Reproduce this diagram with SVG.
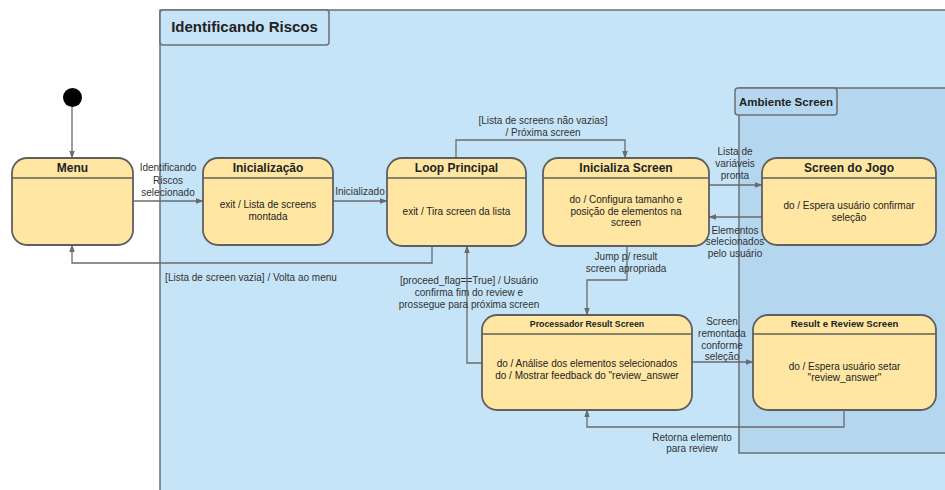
<svg xmlns="http://www.w3.org/2000/svg" width="945" height="490" viewBox="0 0 945 490">
<defs>
<style>
.frame{fill:#c5e4f7;stroke:#6b7075;stroke-width:1.5}
.frame2{fill:#b4d7ef;stroke:#6b7075;stroke-width:1.5}
.node{fill:#ffe7a3;stroke:#5f5f5f;stroke-width:1.8}
.sep{stroke:#5f5f5f;stroke-width:1.5}
.t{font-family:"Liberation Sans",Arial,sans-serif;fill:#222;text-anchor:middle}
.title{font-size:12px;font-weight:bold}
.body{font-size:10px}
.lbl{font-family:"Liberation Sans",Arial,sans-serif;fill:#333;font-size:10px;text-anchor:middle}
.c{fill:none;stroke:#6b6b6b;stroke-width:1.3;marker-end:url(#ah)}
</style>
<marker id="ah" viewBox="0 0 10 10" refX="9" refY="5" markerWidth="8" markerHeight="8" markerUnits="userSpaceOnUse" orient="auto">
<path d="M0,1.5 L10,5 L0,8.5 z" fill="#6b6b6b"/>
</marker>
</defs>
<rect width="945" height="490" fill="#ffffff"/>
<g id="frame-identificando-riscos">
<rect class="frame" x="160" y="10" width="800" height="500"/>
<rect class="frame" x="160" y="10" width="169" height="35" rx="3"/>
<text class="t" x="244.5" y="32" style="font-size:15px;font-weight:bold">Identificando Riscos</text>
</g>
<g id="frame-ambiente-screen">
<rect class="frame2" x="739" y="88" width="220" height="365"/>
<rect class="frame2" x="735" y="88" width="102" height="27" rx="3"/>
<text class="t" x="786" y="105.5" style="font-size:11.5px;font-weight:bold">Ambiente Screen</text>
</g>
<g id="connectors">
<path class="c" d="M72,107 L72,158"/>
<path class="c" d="M133,201 L203,201"/>
<path class="c" d="M333,201 L387,201"/>
<path class="c" d="M432,246 L432,263 L72,263 L72,245"/>
<path class="c" d="M456,158 L456,140 L625,140 L625,158"/>
<path class="c" d="M709,185 L762,185"/>
<path class="c" d="M762,217 L709,217"/>
<path class="c" d="M627,246 L627,280 L587,280 L587,315"/>
<path class="c" d="M482,363 L467,363 L467,246"/>
<path class="c" d="M692,362 L753,362"/>
<path class="c" d="M844,410 L844,427 L587,427 L587,410"/>
</g>
<g id="labels">
<text class="lbl" x="168" y="171">Identificando</text>
<text class="lbl" x="168" y="184">Riscos</text>
<text class="lbl" x="168" y="196">selecionado</text>
<text class="lbl" x="360" y="195">Inicializado</text>
<text class="lbl" x="251" y="281">[Lista de screen vazia] / Volta ao menu</text>
<text class="lbl" x="543" y="124">[Lista de screens não vazias]</text>
<text class="lbl" x="543" y="136">/ Próxima screen</text>
<text class="lbl" x="735" y="155">Lista de</text>
<text class="lbl" x="735" y="167">variáveis</text>
<text class="lbl" x="735" y="179">pronta</text>
<text class="lbl" x="735" y="234">Elementos</text>
<text class="lbl" x="735" y="245">selecionados</text>
<text class="lbl" x="735" y="257">pelo usuário</text>
<text class="lbl" x="626" y="260">Jump p/ result</text>
<text class="lbl" x="626" y="272">screen apropriada</text>
<text class="lbl" x="469" y="284">[proceed_flag==True] / Usuário</text>
<text class="lbl" x="469" y="296">confirma fim do review e</text>
<text class="lbl" x="469" y="308">prossegue para próxima screen</text>
<text class="lbl" x="722" y="325">Screen</text>
<text class="lbl" x="722" y="337">remontada</text>
<text class="lbl" x="722" y="349">conforme</text>
<text class="lbl" x="722" y="360">seleção</text>
<text class="lbl" x="692" y="441">Retorna elemento</text>
<text class="lbl" x="692" y="452">para review</text>
</g>
<g id="start">
<circle cx="72.5" cy="97.5" r="9.5" fill="#000"/>
</g>
<g id="menu">
<rect class="node" x="12" y="158" width="121" height="87" rx="15"/>
<line class="sep" x1="12" y1="178" x2="133" y2="178"/>
<text class="t title" x="72.5" y="172">Menu</text>
</g>
<g id="inicializacao">
<rect class="node" x="203" y="158" width="130" height="87" rx="15"/>
<line class="sep" x1="203" y1="178" x2="333" y2="178"/>
<text class="t title" x="268" y="172">Inicialização</text>
<text class="t body" x="268" y="208">exit / Lista de screens</text>
<text class="t body" x="268" y="220">montada</text>
</g>
<g id="loop-principal">
<rect class="node" x="387" y="158" width="139" height="88" rx="15"/>
<line class="sep" x1="387" y1="178" x2="526" y2="178"/>
<text class="t title" x="456.5" y="172">Loop Principal</text>
<text class="t body" x="456.5" y="215">exit / Tira screen da lista</text>
</g>
<g id="inicializa-screen">
<rect class="node" x="543" y="158" width="166" height="88" rx="15"/>
<line class="sep" x1="543" y1="178" x2="709" y2="178"/>
<text class="t title" x="626" y="172">Inicializa Screen</text>
<text class="t body" x="626" y="203">do / Configura tamanho e</text>
<text class="t body" x="626" y="215">posição de elementos na</text>
<text class="t body" x="626" y="226">screen</text>
</g>
<g id="screen-do-jogo">
<rect class="node" x="762" y="158" width="174" height="87" rx="15"/>
<line class="sep" x1="762" y1="178" x2="936" y2="178"/>
<text class="t title" x="849" y="172">Screen do Jogo</text>
<text class="t body" x="849" y="209">do / Espera usuário confirmar</text>
<text class="t body" x="849" y="221">seleção</text>
</g>
<g id="processador-result-screen">
<rect class="node" x="482" y="315" width="210" height="95" rx="15"/>
<line class="sep" x1="482" y1="334" x2="692" y2="334"/>
<text class="t" x="587" y="326.5" style="font-size:8.8px;font-weight:bold">Processador Result Screen</text>
<text class="t body" x="587" y="367">do / Análise dos elementos selecionados</text>
<text class="t body" x="587" y="379">do / Mostrar feedback do "review_answer</text>
</g>
<g id="result-e-review-screen">
<rect class="node" x="753" y="315" width="183" height="95" rx="15"/>
<line class="sep" x1="753" y1="334" x2="936" y2="334"/>
<text class="t" x="844.5" y="327" style="font-size:9.6px;font-weight:bold">Result e Review Screen</text>
<text class="t body" x="844.5" y="370">do / Espera usuário setar</text>
<text class="t body" x="844.5" y="381">"review_answer"</text>
</g>
</svg>
